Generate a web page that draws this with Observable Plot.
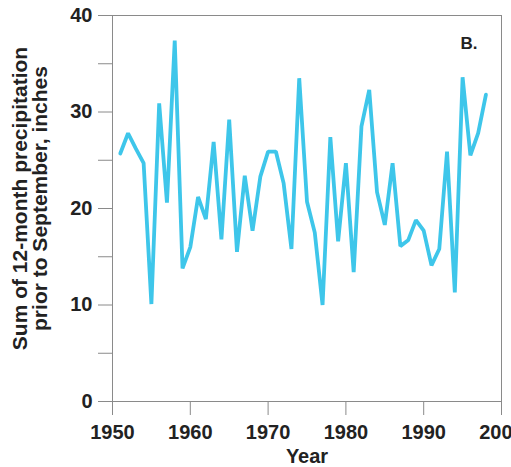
<!DOCTYPE html>
<html><head><meta charset="utf-8">
<script src="https://cdn.jsdelivr.net/npm/d3@7"></script>
<script src="https://cdn.jsdelivr.net/npm/@observablehq/plot@0.6"></script>
<style>body{margin:0;background:#fff}</style>
</head><body><div id="chart"></div>
<script>
const years = [1951,1952,1953,1954,1955,1956,1957,1958,1959,1960,1961,1962,1963,1964,1965,1966,1967,1968,1969,1970,1971,1972,1973,1974,1975,1976,1977,1978,1979,1980,1981,1982,1983,1984,1985,1986,1987,1988,1989,1990,1991,1992,1993,1994,1995,1996,1997,1998];
const precip = [25.7,27.8,26.2,24.7,10.1,30.9,20.6,37.4,13.8,16.0,21.2,18.9,26.9,16.8,29.2,15.5,23.4,17.7,23.3,25.9,25.9,22.6,15.8,33.5,20.7,17.5,10.0,27.4,16.6,24.7,13.4,28.5,32.3,21.7,18.3,24.7,16.1,16.7,18.8,17.7,14.1,15.8,25.9,11.3,33.6,25.5,27.8,31.8];
const yMajor = [0,10,20,30,40];
const yMinor = [5,15,25,35];
const xTicks = [1950,1960,1970,1980,1990,2000];
const xLabel = "Year";
const yLabel = "Sum of 12-month precipitation\nprior to September, inches";
const panelLabel = "B.";

const data = years.map((year, i) => ({year, value: precip[i]}));
const font = "'Liberation Sans', Arial, Helvetica, sans-serif";

const chart = Plot.plot({
  width: 511, height: 467,
  marginLeft: 112, marginRight: 10, marginTop: 15, marginBottom: 66,
  style: {fontFamily: font, background: "#fff", color: "#222"},
  x: {domain: [1950, 2000]},
  y: {domain: [0, 40]},
  marks: [
    Plot.frame({stroke: "#8a8a8a"}),
    Plot.axisX({ticks: xTicks, tickFormat: d => String(d), tickSize: 14, tickPadding: 9, fontSize: 20, fontWeight: "bold", stroke: "#8a8a8a", fill: "#222", label: null}),
    Plot.axisY({ticks: yMajor, tickSize: 14, tickPadding: 6, fontSize: 20, fontWeight: "bold", stroke: "#8a8a8a", fill: "#222", label: null}),
    Plot.axisY({ticks: yMinor, tickSize: 14, tickFormat: () => "", stroke: "#8a8a8a", label: null}),
    Plot.lineY(data, {x: "year", y: "value", stroke: "#3ec6ea", strokeWidth: 3.8, strokeLinejoin: "miter"}),
    Plot.text([xLabel], {frameAnchor: "bottom", lineAnchor: "bottom", dy: 61, fontSize: 20, fontWeight: "bold", fill: "#222"}),
    Plot.text([yLabel], {frameAnchor: "left", rotate: -90, textAnchor: "middle", lineAnchor: "middle", lineHeight: 0.95, dx: -82, dy: -10, fontSize: 21, fontWeight: "bold", fill: "#222"}),
    Plot.text([panelLabel], {frameAnchor: "top-right", textAnchor: "end", lineAnchor: "top", dx: -24, dy: 21, fontSize: 17, fontWeight: "bold", fill: "#222"})
  ]
});
document.getElementById("chart").appendChild(chart);
</script>
</body></html>
